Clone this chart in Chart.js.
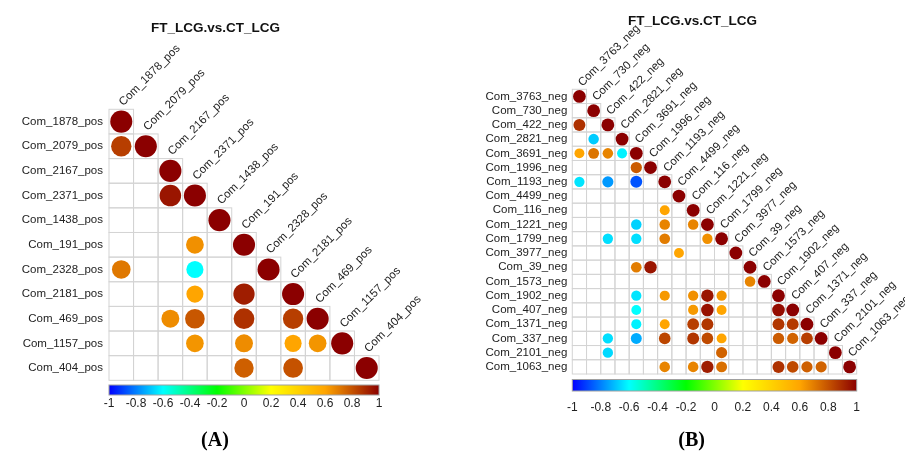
<!DOCTYPE html>
<html>
<head>
<meta charset="utf-8">
<title>FT_LCG.vs.CT_LCG</title>
<script src="https://cdn.jsdelivr.net/npm/chart.js@4.4.1/dist/chart.umd.min.js"></script>
<style>
  html, body { margin: 0; padding: 0; background: #ffffff; }
  #wrap { position: relative; width: 905px; height: 451px; }
  canvas { position: absolute; left: 0; top: 0; }
</style>
</head>
<body>
<div id="wrap">
  <canvas id="posChart" width="905" height="451"></canvas>
  <canvas id="negChart" width="905" height="451"></canvas>
</div>
<script>
const N = null;

// Panel A: positive-mode compounds (lower triangle, row by row)
const posLabels = ['Com_1878_pos','Com_2079_pos','Com_2167_pos','Com_2371_pos','Com_1438_pos',
  'Com_191_pos','Com_2328_pos','Com_2181_pos','Com_469_pos','Com_1157_pos','Com_404_pos'];
const posCorr = [
  [1],
  [0.85, 1],
  [N, N, 1],
  [N, N, 0.95, 1],
  [N, N, N, N, 1],
  [N, N, N, 0.65, N, 1],
  [0.71, N, N, -0.6, N, N, 1],
  [N, N, N, 0.6, N, 0.93, N, 1],
  [N, N, 0.66, 0.79, N, 0.88, N, 0.85, 1],
  [N, N, N, 0.64, N, 0.66, N, 0.6, 0.64, 1],
  [N, N, N, N, N, 0.77, N, 0.8, N, N, 1]
];

// Panel B: negative-mode compounds (lower triangle, row by row)
const negLabels = ['Com_3763_neg','Com_730_neg','Com_422_neg','Com_2821_neg','Com_3691_neg',
  'Com_1996_neg','Com_1193_neg','Com_4499_neg','Com_116_neg','Com_1221_neg','Com_1799_neg',
  'Com_3977_neg','Com_39_neg','Com_1573_neg','Com_1902_neg','Com_407_neg','Com_1371_neg',
  'Com_337_neg','Com_2101_neg','Com_1063_neg'];
const negCorr = [
  [1],
  [N, 1],
  [0.88, N, 1],
  [N, -0.68, N, 1],
  [0.6, 0.72, 0.68, -0.62, 1],
  [N, N, N, N, 0.78, 1],
  [-0.64, N, -0.76, N, -0.87, N, 1],
  [N, N, N, N, N, N, N, 1],
  [N, N, N, N, N, N, 0.6, N, 1],
  [N, N, N, N, -0.67, N, 0.68, N, 0.68, 1],
  [N, N, -0.65, N, -0.65, N, 0.7, N, N, 0.65, 1],
  [N, N, N, N, N, N, N, 0.6, N, N, N, 1],
  [N, N, N, N, 0.7, 0.95, N, N, N, N, N, N, 1],
  [N, N, N, N, N, N, N, N, N, N, N, N, 0.68, 1],
  [N, N, N, N, -0.64, N, 0.63, N, 0.65, 0.95, 0.64, N, N, N, 1],
  [N, N, N, N, -0.6, N, N, N, 0.63, 0.96, 0.6, N, N, N, 0.97, 1],
  [N, N, N, N, -0.62, N, 0.6, N, 0.85, 0.87, N, N, N, N, 0.87, 0.86, 1],
  [N, N, -0.65, N, -0.73, N, 0.83, N, 0.87, 0.82, 0.6, N, N, N, 0.78, 0.76, 0.85, 1],
  [N, N, -0.66, N, N, N, N, N, N, N, 0.76, N, N, N, N, N, N, N, 1],
  [N, N, N, N, N, N, 0.68, N, 0.68, 0.93, 0.73, N, N, N, 0.88, 0.82, 0.77, 0.76, N, 1]
];

// Colour bar ticks and ramp
const cbTicks = [-1, -0.8, -0.6, -0.4, -0.2, 0, 0.2, 0.4, 0.6, 0.8, 1];
const rampValues = [-1, -0.6, -0.2, 0.2, 0.6, 1];
const rampColors = [[0, 0, 255], [0, 255, 255], [0, 255, 0], [255, 255, 0], [255, 165, 0], [139, 0, 0]];

function colorFor(v) {
  for (let k = 0; k < rampValues.length - 1; k++) {
    if (v <= rampValues[k + 1]) {
      const t = Math.max(0, (v - rampValues[k]) / (rampValues[k + 1] - rampValues[k]));
      const a = rampColors[k], b = rampColors[k + 1];
      const c = a.map((ch, i) => Math.round(ch + (b[i] - ch) * t));
      return 'rgb(' + c.join(',') + ')';
    }
  }
  return 'rgb(' + rampColors[rampColors.length - 1].join(',') + ')';
}

function toPoints(matrix) {
  const pts = [];
  matrix.forEach((row, i) => row.forEach((v, j) => {
    if (v !== null) pts.push({ x: j, y: i, v: v });
  }));
  return pts;
}

function cellSize(chart) {
  const x = chart.scales.x;
  return x.getPixelForValue(1) - x.getPixelForValue(0);
}

const FONT = '"Liberation Sans", Arial, Helvetica, sans-serif';

function corrPlugin(p) {
  return {
    id: 'corrDecor',
    beforeDatasetsDraw(chart) {
      const ctx = chart.ctx, x = chart.scales.x, y = chart.scales.y;
      const n = p.labels.length;
      ctx.save();
      ctx.strokeStyle = '#d4d4d4';
      ctx.lineWidth = 1;
      for (let i = 0; i < n; i++) {
        for (let j = 0; j <= i; j++) {
          const x0 = x.getPixelForValue(j - 0.5), x1 = x.getPixelForValue(j + 0.5);
          const y0 = y.getPixelForValue(i - 0.5), y1 = y.getPixelForValue(i + 0.5);
          ctx.strokeRect(x0, y0, x1 - x0, y1 - y0);
        }
      }
      ctx.restore();
    },
    afterDraw(chart) {
      const ctx = chart.ctx, x = chart.scales.x, y = chart.scales.y, cb = chart.scales.cb;
      const area = chart.chartArea;
      ctx.save();
      ctx.fillStyle = '#222';
      ctx.font = p.labelFont + 'px ' + FONT;

      // row labels
      ctx.textAlign = 'right';
      ctx.textBaseline = 'middle';
      p.labels.forEach((lab, i) => {
        ctx.fillText(lab, area.left - p.rowGap, y.getPixelForValue(i));
      });

      // diagonal column labels
      ctx.textAlign = 'left';
      ctx.textBaseline = 'alphabetic';
      p.labels.forEach((lab, j) => {
        const cx = x.getPixelForValue(j) + p.colDx;
        const cy = y.getPixelForValue(j - 0.5) + p.colDy;
        ctx.save();
        ctx.translate(cx, cy);
        ctx.rotate(-Math.PI / 4);
        ctx.fillText(lab, 0, 0);
        ctx.restore();
      });

      // colour bar
      const top = area.bottom + p.cbGap, h = p.cbHeight;
      const grad = ctx.createLinearGradient(cb.left, 0, cb.right, 0);
      rampValues.forEach((v, k) => {
        grad.addColorStop((cb.getPixelForValue(v) - cb.left) / (cb.right - cb.left),
          'rgb(' + rampColors[k].join(',') + ')');
      });
      ctx.fillStyle = grad;
      ctx.fillRect(cb.left, top, cb.right - cb.left, h);
      ctx.strokeStyle = '#a0a0a0';
      ctx.lineWidth = 1;
      ctx.strokeRect(cb.left, top, cb.right - cb.left, h);

      ctx.fillStyle = '#222';
      ctx.font = p.tickFont + 'px ' + FONT;
      ctx.textAlign = 'center';
      ctx.textBaseline = 'middle';
      cbTicks.forEach(t => {
        ctx.fillText(String(t), cb.getPixelForValue(t), top + h + p.tickGap);
      });

      // title
      ctx.font = 'bold ' + p.titleFont + 'px ' + FONT;
      ctx.fillStyle = '#111';
      ctx.fillText(p.title, p.titleX, p.titleY);

      // panel letter
      ctx.font = 'bold ' + p.letterFont + 'px "Liberation Serif", "Times New Roman", serif';
      ctx.fillStyle = '#000';
      ctx.fillText(p.letter, p.letterX, p.letterY);
      ctx.restore();
    }
  };
}

function makeChart(id, p) {
  const n = p.labels.length;
  const radius = ctx => 0.45 * Math.sqrt(Math.abs(ctx.raw.v)) * cellSize(ctx.chart);
  return new Chart(document.getElementById(id), {
    type: 'scatter',
    data: {
      datasets: [{
        data: toPoints(p.matrix),
        clip: false,
        pointStyle: 'circle',
        pointBorderWidth: 0,
        pointRadius: radius,
        pointHoverRadius: radius,
        pointBackgroundColor: ctx => colorFor(ctx.raw.v),
        pointBorderColor: ctx => colorFor(ctx.raw.v)
      }]
    },
    options: {
      responsive: false,
      animation: false,
      devicePixelRatio: 1,
      events: [],
      layout: { padding: p.padding },
      plugins: { legend: { display: false }, title: { display: false }, tooltip: { enabled: false } },
      scales: {
        x: { type: 'linear', min: -0.5, max: n - 0.5, display: false },
        y: { type: 'linear', min: -0.5, max: n - 0.5, reverse: true, display: false },
        cb: { type: 'linear', axis: 'x', position: 'bottom', min: -1, max: 1, display: false }
      }
    },
    plugins: [corrPlugin(p)]
  });
}

makeChart('posChart', {
  labels: posLabels, matrix: posCorr,
  padding: { left: 109, top: 109.3, right: 526, bottom: 70.7 },
  labelFont: 11.5, rowGap: 6, colDx: 2, colDy: -3,
  cbGap: 4.7, cbHeight: 10, tickFont: 12, tickGap: 8.5,
  title: 'FT_LCG.vs.CT_LCG', titleFont: 13.5, titleX: 215.5, titleY: 28,
  letter: '(A)', letterFont: 20, letterX: 215, letterY: 441
});

makeChart('negChart', {
  labels: negLabels, matrix: negCorr,
  padding: { left: 572.3, top: 89.3, right: 48.3, bottom: 77 },
  labelFont: 11.5, rowGap: 5, colDx: 3, colDy: -2.5,
  cbGap: 5.5, cbHeight: 11.5, tickFont: 12, tickGap: 16.5,
  title: 'FT_LCG.vs.CT_LCG', titleFont: 13.5, titleX: 692.5, titleY: 21,
  letter: '(B)', letterFont: 20, letterX: 691.7, letterY: 441
});
</script>
</body>
</html>
